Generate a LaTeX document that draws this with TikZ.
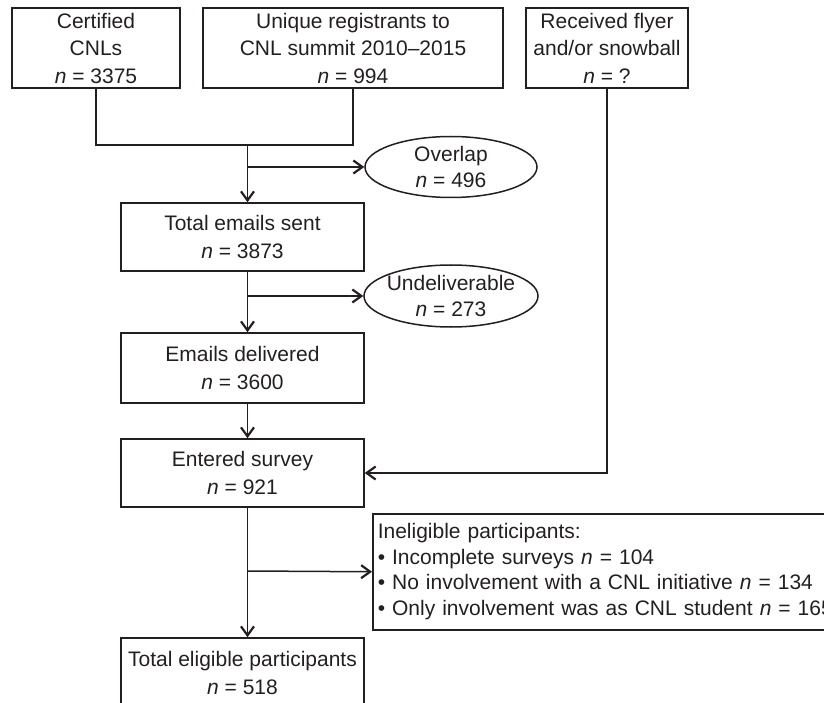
\documentclass[tikz,border=0pt]{standalone}
\usepackage{fontspec}
\setmainfont{Liberation Sans}
\usetikzlibrary{shapes.geometric,arrows.meta,calc}
\definecolor{ink}{HTML}{231F20}
\begin{document}
\begin{tikzpicture}[x=1pt,y=-1pt, line width=1.5pt, color=ink,
  box/.style={draw, rectangle, align=center, inner sep=0pt, font=\fontsize{21pt}{27.5pt}\selectfont},
  oval/.style={draw, ellipse, inner sep=0pt},
  ovaltext/.style={align=center, inner sep=0pt, font=\fontsize{21pt}{26pt}\selectfont},
  arr/.style={-{Straight Barb[length=9pt,width=13pt,line width=2.2pt]}},
  ]
\useasboundingbox (0,0) rectangle (824,703);
\clip (0,0) rectangle (824,703);

\node[box, minimum width=168pt, minimum height=80pt] (cert) at (96,48) {Certified\\CNLs\\\textit{n} = 3375};
\node[box, minimum width=300pt, minimum height=80pt] (uniq) at (353,48) {Unique registrants to\\CNL summit 2010–2015\\\textit{n} = 994};
\node[box, minimum width=162pt, minimum height=80pt] (recv) at (607,48) {Received flyer\\and/or snowball\\\textit{n} = ?};

\node[box, minimum width=243pt, minimum height=68pt] (total) at (242.5,237) {Total emails sent\\\textit{n} = 3873};
\node[box, minimum width=243pt, minimum height=70pt] (deliv) at (242.5,368) {Emails delivered\\\textit{n} = 3600};
\node[box, minimum width=243pt, minimum height=68pt] (entered) at (242.5,473) {Entered survey\\\textit{n} = 921};
\node[box, minimum width=243pt, minimum height=70pt] (final) at (242.5,673) {Total eligible participants\\\textit{n} = 518};

\node[oval, minimum width=172pt, minimum height=61pt] (overlap) at (451,167) {};
\node[ovaltext] (overlapt) at (overlap.center) {Overlap\\\textit{n} = 496};
\node[oval, minimum width=174pt, minimum height=62pt] (undeliv) at (451,296) {};
\node[ovaltext] (undelivt) at (undeliv.center) {Undeliverable\\\textit{n} = 273};

\node[draw, rectangle, anchor=north west, minimum height=116pt, inner xsep=5pt, inner ysep=0pt,
  align=left, text width=470pt, font=\fontsize{21pt}{25.5pt}\selectfont] (inelig) at (372,513)
  {Ineligible participants:\\• Incomplete surveys \textit{n} = 104\\• No involvement with a CNL initiative \textit{n} = 134\\• Only involvement was as CNL student \textit{n} = 165};

\coordinate (sp) at (247.5,145);
\coordinate (b1) at (247.5,167);
\coordinate (b2) at (247.5,296);
\coordinate (b3) at (247.5,571);

\draw (cert.south) |- (sp) -| (uniq.south);
\draw[arr] (sp) -- (sp |- total.north);
\draw[arr] (b1) -- (overlap.west);
\draw[arr] (sp |- total.south) -- (sp |- deliv.north);
\draw[arr] (b2) -- (undeliv.west);
\draw[arr] (sp |- deliv.south) -- (sp |- entered.north);
\draw[arr] (recv.south) |- (entered.east);
\draw[arr] (sp |- entered.south) -- (sp |- final.north);
\draw[arr] (b3) -- (inelig.west);
\end{tikzpicture}
\end{document}
